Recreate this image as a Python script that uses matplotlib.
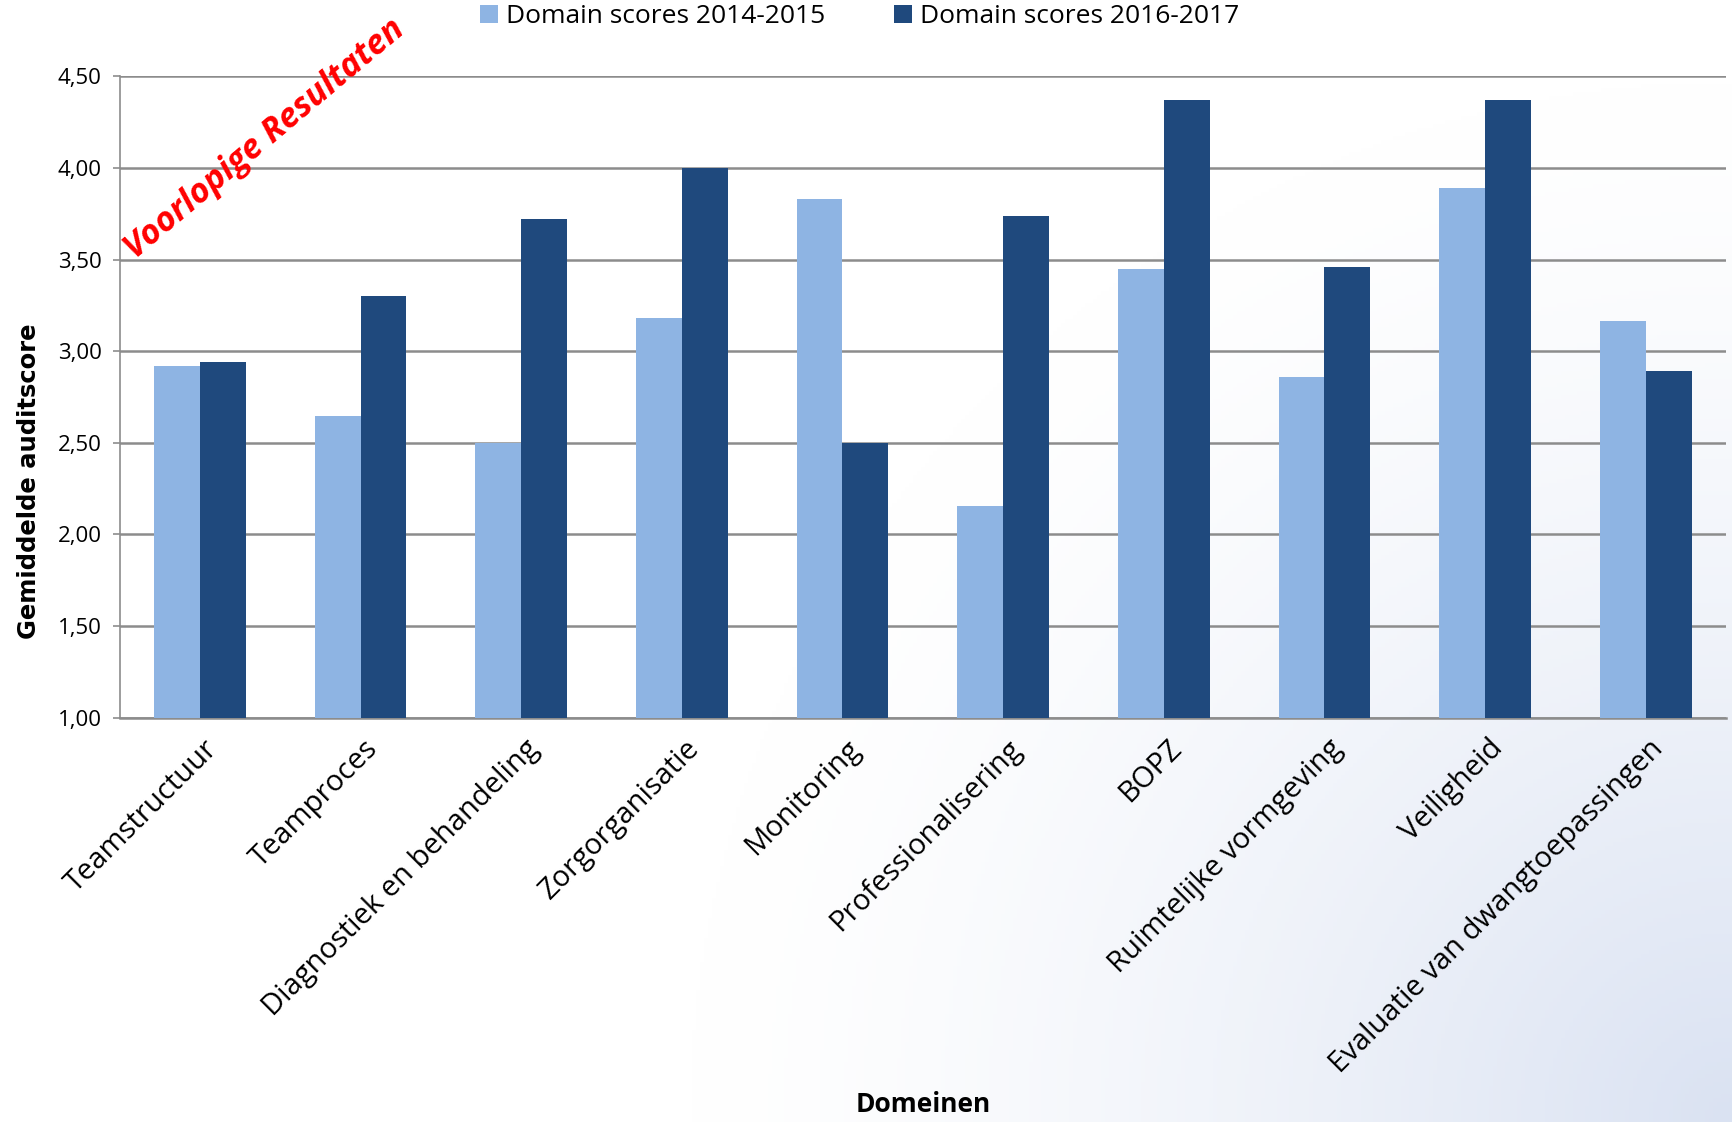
"""
Bar chart of domain audit scores, two periods side by side.
"""
import matplotlib
matplotlib.use("Agg")
import matplotlib.pyplot as plt
import numpy as np

domains = ["Teamstructuur", "Teamproces", "Diagnostiek en behandeling",
           "Zorgorganisatie", "Monitoring", "Professionalisering", "BOPZ",
           "Ruimtelijke vormgeving", "Veiligheid", "Evaluatie van dwangtoepassingen"]
scores_1415 = [2.92, 2.645, 2.50, 3.18, 3.83, 2.155, 3.45, 2.86, 3.89, 3.165]
scores_1617 = [2.94, 3.30, 3.72, 4.00, 2.50, 3.74, 4.37, 3.46, 4.37, 2.89]
yticks = [1.0, 1.5, 2.0, 2.5, 3.0, 3.5, 4.0, 4.5]

light = "#8EB4E3"
dark = "#1F497D"
font = "Open Sans"

fig = plt.figure(figsize=(17.33, 11.22), dpi=100)

# soft blue gradient coming from the bottom right corner
bg = fig.add_axes([0, 0, 1, 1], zorder=-10)
h, w = 281, 433
yy, xx = np.mgrid[0:h, 0:w]
d = np.hypot(xx - (w - 1), yy - (h - 1)) / 260.0
t = np.clip(1 - d, 0, 1) ** 1.4
base = np.array([1.0, 1.0, 1.0])
tint = np.array([218, 226, 242]) / 255.0
img = base + t[..., None] * (tint - base)
bg.imshow(img, aspect="auto", extent=[0, 1, 0, 1], origin="upper")
bg.axis("off")

ax = fig.add_axes([0.069, 0.3605, 0.927, 0.5715])
ax.patch.set_alpha(0)

x = np.arange(len(domains))
bw = 1 / 3.5
ax.bar(x - bw / 2, scores_1415, bw, color=light, label="Domain scores 2014-2015", zorder=3)
ax.bar(x + bw / 2, scores_1617, bw, color=dark, label="Domain scores 2016-2017", zorder=3)

ax.set_xlim(-0.5, len(domains) - 0.5)
ax.set_ylim(1.0, 4.5)
ax.set_yticks(yticks)
ax.set_yticklabels([f"{v:.2f}".replace(".", ",") for v in yticks],
                   family=font, fontsize=16)
ax.yaxis.grid(True, color="#8c8c8c", linewidth=1.8, zorder=0)
ax.tick_params(axis="y", length=5, width=1.2, color="#8c8c8c", pad=8)
ax.tick_params(axis="x", length=0, pad=12)

ax.set_xticks(x + 0.02)
ax.set_xticklabels(domains, rotation=45, ha="right", rotation_mode="anchor",
                   family=font, fontsize=21)

for side in ["top", "right"]:
    ax.spines[side].set_visible(False)
ax.spines["left"].set_color("#8c8c8c")
ax.spines["left"].set_linewidth(1.2)
ax.spines["bottom"].set_color("#8c8c8c")
ax.spines["bottom"].set_linewidth(1.8)

ax.set_ylabel("Gemiddelde auditscore", family="DejaVu Sans", fontweight="bold",
              fontsize=17.5)
ax.yaxis.set_label_coords(-0.049, 0.368)
fig.text(0.533, 0.016, "Domeinen", family=font, fontweight="bold",
         fontsize=19, ha="center", va="center")

fig.text(0.153, 0.876, "Voorlopige Resultaten", color="red", family=font,
         fontweight="bold", style="italic", fontsize=24.5, rotation=40,
         ha="center", va="center")

ax.legend(loc="center", bbox_to_anchor=(0.496, 0.985), bbox_transform=fig.transFigure,
          ncol=2, frameon=False, handlelength=0.7, handleheight=0.7,
          columnspacing=2.6, handletextpad=0.3,
          prop={"family": font, "size": 19})

fig.savefig("out.png", dpi=100)
